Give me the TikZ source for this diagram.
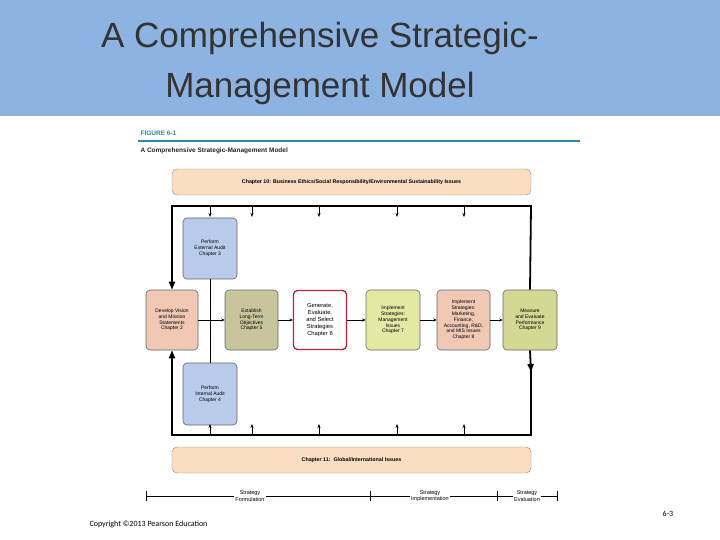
\documentclass[tikz,border=0pt]{standalone}
\usepackage{fontspec}
\setmainfont{Liberation Sans}
\newfontfamily\carlitofont{Carlito}
\usetikzlibrary{arrows.meta}
\definecolor{band}{HTML}{8DB3E2}
\definecolor{peach}{HTML}{FBDDC2}
\definecolor{vis}{HTML}{F0C8B4}
\definecolor{est}{HTML}{C8C49C}
\definecolor{imp}{HTML}{E3E8A2}
\definecolor{mea}{HTML}{D3D893}
\definecolor{aud}{HTML}{B9CBEA}
\definecolor{red6}{HTML}{C0203A}
\definecolor{teal}{HTML}{2E8A9E}
\tikzset{
 box/.style={draw=black!60,rounded corners=4pt,line width=0.6pt,align=center,font=\fontsize{5}{5.8}\selectfont,inner sep=1pt},
 bar/.style={draw=black!45,fill=peach,rounded corners=5pt,font=\fontsize{5.3}{6}\selectfont\bfseries},
 tick/.style={-{Stealth[length=4pt,width=3pt]},line width=0.7pt},
 fl/.style={-{Stealth[length=3.5pt,width=3pt]},line width=0.7pt},
 big/.style={line width=1.8pt,-{Triangle[length=8pt,width=6pt]}}
}
\begin{document}
\begin{tikzpicture}[x=1pt,y=-1pt]
\useasboundingbox (0,0) rectangle (720,540);
\fill[white] (0,0) rectangle (720,540);
\fill[band] (0,0) rectangle (720,116);
\node[font=\fontsize{35}{50}\selectfont,align=center,text=black!80] (title) at (320,63) {A Comprehensive Strategic-\\Management Model};
\node[anchor=west,font=\fontsize{6.5}{7}\selectfont\bfseries,text=teal] (fig) at (137,133) {FIGURE 6-1};
\draw[teal,line width=1.2pt] (138,141) -- (580,141);
\node[anchor=west,font=\fontsize{6.5}{7}\selectfont\bfseries,text=black!85] (sub) at (137,151) {A Comprehensive Strategic-Management Model};
% bars
\node[bar,minimum width=359pt,minimum height=26pt] (top) at (351.5,182) {Chapter 10: Business Ethics/Social Responsibility/Environmental Sustainability Issues};
\node[bar,minimum width=359pt,minimum height=26pt] (bot) at (351.5,460) {Chapter 11:\ \ Global/International Issues};
% boxes
\node[box,fill=vis,minimum width=52pt,minimum height=60pt] (vis) at (172,320) {Develop Vision\\and Mission\\Statements\\Chapter 2};
\node[box,fill=est,minimum width=53pt,minimum height=60pt] (est) at (251.5,320) {Establish\\Long-Term\\Objectives\\Chapter 5};
\node[box,fill=white,draw=red6,line width=1.3pt,minimum width=53pt,minimum height=59pt,font=\fontsize{5.8}{7}\selectfont] (gen) at (320,320) {Generate,\\Evaluate,\\and Select\\Strategies\\Chapter 6};
\node[box,fill=imp,minimum width=54pt,minimum height=60pt] (im1) at (393,320) {Implement\\Strategies:\\Management\\Issues\\Chapter 7};
\node[box,fill=vis,minimum width=53pt,minimum height=60pt] (im2) at (463.5,320) {Implement\\Strategies:\\Marketing,\\Finance,\\Accounting, R\&D,\\and MIS Issues\\Chapter 8};
\node[box,fill=mea,minimum width=54pt,minimum height=60pt] (mea) at (530,320) {Measure\\and Evaluate\\Performance\\Chapter 9};
\node[box,fill=aud,minimum width=54pt,minimum height=61pt] (ext) at (210,248.5) {Perform\\External Audit\\Chapter 3};
\node[box,fill=aud,minimum width=54pt,minimum height=62pt] (int) at (210,394) {Perform\\Internal Audit\\Chapter 4};
% flow
\draw[line width=0.7pt] (ext.south) -- (int.north);
\draw[fl] (vis.east) -- (est.west);
\draw[fl] (est.east) -- (gen.west);
\draw[fl] (gen.east) -- (im1.west);
\draw[fl] (im1.east) -- (im2.west);
\draw[fl] (im2.east) -- (mea.west);
% loop
\coordinate (tl) at (172,206); \coordinate (tr) at (531,206);
\coordinate (bl) at (172,435); \coordinate (br) at (531,435);
\draw[big] (mea.north) -- (tr) -- (tl) -- (vis.north);
\draw[big] (mea.south) -- (531,372);
\draw[line width=1.8pt] (531,366) -- (br) -- (bl) -- (172,360);
\draw[big] (172,360) -- (vis.south);
\foreach \x/\n in {210/a,252/b,319/c,397/d,464/e}{
 \coordinate (t\n) at (\x,206); \coordinate (u\n) at (\x,435);
 \draw[tick] (t\n) -- ++(0,11);
 \draw[tick] (u\n) -- ++(0,-11);
}
% timeline
\coordinate (s0) at (146,496); \coordinate (s1) at (370,496); \coordinate (s2) at (497,496); \coordinate (s3) at (557,496);
\draw[line width=0.8pt] (s0) -- (s3);
\foreach \c in {s0,s1,s2,s3}{\draw[line width=1pt] ([yshift=-5pt]\c) -- ([yshift=5pt]\c);}
\tikzset{tl/.style={fill=white,inner sep=1.5pt,align=center,font=\fontsize{5.5}{6.3}\selectfont}}
\node[tl] (l1) at (250,496) {Strategy\\Formulation};
\node[tl] (l2) at (430,496) {Strategy\\Implementation};
\node[tl] (l3) at (527,496) {Strategy\\Evaluation};
\node[anchor=west,font=\carlitofont\fontsize{8}{9}\selectfont] (copy) at (86,524) {Copyright \textcopyright 2013 Pearson Education};
\node[font=\carlitofont\fontsize{8}{9}\selectfont] (pg) at (668,514) {6-3};
\end{tikzpicture}
\end{document}
